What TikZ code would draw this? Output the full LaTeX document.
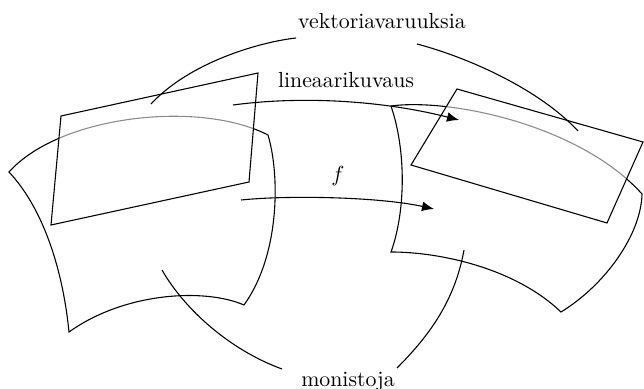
\documentclass[tikz,border=0pt]{standalone}
\usetikzlibrary{arrows.meta}
\tikzset{
  edge/.style={line width=0.5pt},
  sheet/.style={line width=0.5pt, fill=white, fill opacity=0.55},
  maparrow/.style={line width=0.5pt, -{Latex[length=5.5pt,width=4.5pt]}},
  lbl/.style={inner sep=1pt}
}
\begin{document}
\begin{tikzpicture}[x=0.4583pt, y=-0.4583pt]
\useasboundingbox (0,0) rectangle (644,389);

% labels
\node[lbl] (vek) at (382,21) {vektoriavaruuksia};
\node[lbl] (lin) at (346,80) {lineaarikuvaus};
\node[lbl] (fl)  at (338,176) {$f$};
\node[lbl] (mon) at (348,382) {monistoja};

% corners of the two curved patches
\coordinate (LA) at (9,172);   \coordinate (LB) at (268,135);
\coordinate (LC) at (244,305); \coordinate (LD) at (69,332);
\coordinate (RA) at (391,106); \coordinate (RB) at (642,194);
\coordinate (RC) at (561,312); \coordinate (RD) at (391,252);

% curved patches (manifolds)
\draw[edge] (LA) .. controls (60,115) and (200,100) .. (LB)
  .. controls (280,175) and (280,255) .. (LC)
  .. controls (205,288) and (125,292) .. (LD)
  .. controls (62,262) and (40,205) .. (LA) -- cycle;
\draw[edge] (RA) .. controls (450,98) and (580,125) .. (RB)
  .. controls (641,235) and (605,285) .. (RC)
  .. controls (515,268) and (440,252) .. (RD)
  .. controls (406,210) and (406,150) .. (RA) -- cycle;

% flat sheets (vector spaces)
\coordinate (P1) at (61,116);  \coordinate (P2) at (258,73);
\coordinate (P3) at (249,182); \coordinate (P4) at (51,225);
\coordinate (Q1) at (457,89);  \coordinate (Q2) at (643,142);
\coordinate (Q3) at (607,223); \coordinate (Q4) at (411,165);
\draw[sheet] (P1) -- (P2) -- (P3) -- (P4) -- cycle;
\draw[sheet] (Q1) -- (Q2) -- (Q3) -- (Q4) -- cycle;

% maps
\coordinate (lin0) at (233,105); \coordinate (lin1) at (459,120);
\coordinate (f0) at (241,200);   \coordinate (f1) at (434,209);
\draw[maparrow] (lin0) .. controls (300,96) and (380,100) .. (lin1);
\draw[maparrow] (f0) .. controls (290,195) and (380,197) .. (f1);

% pointers from the labels
\coordinate (vekL0) at (296,38);  \coordinate (vekL1) at (151,104);
\coordinate (vekR0) at (417,44);  \coordinate (vekR1) at (578,131);
\coordinate (monL0) at (162,270); \coordinate (monL1) at (282,369);
\coordinate (monR0) at (464,250); \coordinate (monR1) at (397,368);
\draw[edge] (vekL0) .. controls (260,42) and (190,62) .. (vekL1);
\draw[edge] (vekR0) .. controls (470,58) and (540,90) .. (vekR1);
\draw[edge] (monL0) .. controls (185,310) and (230,350) .. (monL1);
\draw[edge] (monR0) .. controls (455,300) and (430,335) .. (monR1);
\end{tikzpicture}
\end{document}
